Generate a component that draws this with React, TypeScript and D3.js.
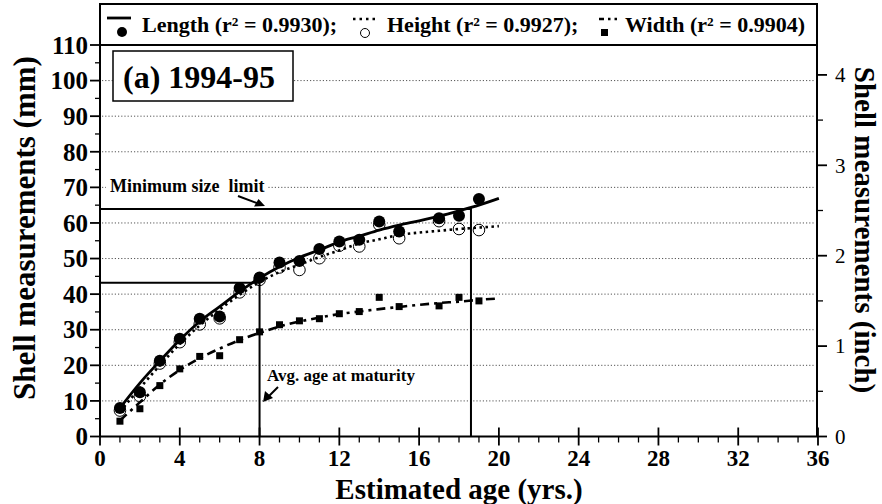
import React from 'react';
import * as d3 from 'd3';

// observed means per age class (mm)
const ages = [1, 2, 3, 4, 5, 6, 7, 8, 9, 10, 11, 12, 13, 14, 15, 17, 18, 19];
const lengthObs = [8.0, 12.4, 21.3, 27.5, 33.1, 33.7, 41.7, 44.7, 48.9, 49.3, 52.7, 54.8, 55.3, 60.4, 57.6, 61.3, 62.0, 66.7];
const heightObs = [7.3, 11.3, 20.5, 26.5, 31.5, 33.2, 40.5, 44.0, 47.5, 46.8, 50.1, 53.6, 53.4, 59.5, 55.7, 60.5, 58.3, 58.0];
const widthObs = [4.3, 7.8, 14.3, 19.0, 22.5, 22.7, 27.2, 29.4, 31.4, 32.5, 33.1, 34.5, 35.1, 39.1, 36.5, 36.7, 39.1, 38.1];

// fitted growth curves (mm)
const fitAges = [1, 2, 3, 4, 5, 6, 7, 8, 9, 10, 11, 12, 13, 14, 15, 16, 17, 18, 19, 20];
const lengthFit = [8.0, 15.0, 21.2, 27.1, 32.3, 36.5, 40.7, 44.5, 47.7, 50.3, 52.4, 54.7, 56.3, 58.0, 59.4, 60.6, 61.9, 63.4, 65.0, 66.9];
const heightFit = [7.0, 13.6, 20.0, 26.0, 31.2, 35.7, 39.8, 43.4, 46.2, 48.3, 50.4, 52.3, 54.2, 55.4, 56.6, 57.3, 57.8, 58.3, 58.7, 59.1];
const widthFit = [4.5, 9.6, 14.6, 18.7, 22.0, 24.7, 27.1, 29.1, 30.9, 32.3, 33.4, 34.4, 35.1, 35.8, 36.4, 37.0, 37.5, 37.9, 38.4, 38.8];

// reference lines
const minSizeLimit = 63.9; // mm
const ageAtLimit = 18.6;
const maturitySize = 43.2;
const maturityAge = 8;

const xTicks = [0, 4, 8, 12, 16, 20, 24, 28, 32, 36];
const yTicks = [0, 10, 20, 30, 40, 50, 60, 70, 80, 90, 100, 110];
const inchTicks = [0, 1, 2, 3, 4];

const FONT = '"Liberation Serif", "Times New Roman", serif';

export default function App() {
  const x = d3.scaleLinear().domain([0, 36]).range([100, 818]);
  const y = d3.scaleLinear().domain([0, 110]).range([436.5, 45]);
  const yIn = d3.scaleLinear().domain([0, 110 / 25.4]).range([436.5, 45]);

  const line = d3
    .line<number>()
    .x((_, i) => x(fitAges[i]))
    .y(d => y(d))
    .curve(d3.curveMonotoneX);

  const minorX = d3.range(0, 37, 1).filter(v => v % 4 !== 0);
  const minorY = d3.range(5, 110, 10);
  const minorIn = [0.5, 1.5, 2.5, 3.5];
  const grid = d3.range(10, 101, 10);

  const [x0, x1] = x.range();
  const yb = y(0);
  const yt = y(110);

  return (
    <div style={{ position: 'absolute', left: 0, top: 0 }}>
      <svg width={882} height={504} style={{ display: 'block', background: '#fff' }} fontFamily={FONT}>
        {/* grid */}
        {grid.map(g => (
          <line key={g} x1={x0 + 2} x2={x1 - 3} y1={y(g)} y2={y(g)} stroke="#555" strokeWidth={1} strokeDasharray="1.2,2" />
        ))}

        {/* label: minimum size limit */}
        <rect x={106} y={175} width={162} height={21} fill="#fff" />
        <text x={110} y={192} fontSize={18} fontWeight="bold" style={{ whiteSpace: 'pre' }}>Minimum size  limit</text>
        <line x1={238} y1={196} x2={258} y2={203.5} stroke="#000" strokeWidth={2} />
        <path d="M265,206 L254,206.5 L258.5,199 Z" fill="#000" />

        <rect x={263} y={367} width={154} height={20} fill="#fff" />
        <text x={267} y={381} fontSize={17} fontWeight="bold">Avg. age at maturity</text>
        <line x1={278} y1={387} x2={268} y2={397} stroke="#000" strokeWidth={2} />
        <path d="M263,402 L265,391 L273,398 Z" fill="#000" />

        {/* reference lines */}
        <polyline
          points={`${x0},${y(minSizeLimit)} ${x(ageAtLimit)},${y(minSizeLimit)} ${x(ageAtLimit)},${yb}`}
          fill="none"
          stroke="#000"
          strokeWidth={2}
        />
        <polyline
          points={`${x0},${y(maturitySize)} ${x(maturityAge)},${y(maturitySize)} ${x(maturityAge)},${yb}`}
          fill="none"
          stroke="#000"
          strokeWidth={2}
        />

        {/* fitted curves */}
        <path d={line(widthFit) || ''} fill="none" stroke="#000" strokeWidth={2.6} strokeDasharray="9,5,3,5" />
        <path d={line(heightFit) || ''} fill="none" stroke="#000" strokeWidth={2.6} strokeDasharray="2.5,3.5" />
        <path d={line(lengthFit) || ''} fill="none" stroke="#000" strokeWidth={2.8} />

        {/* observations */}
        {ages.map((a, i) => (
          <rect key={'w' + a} x={x(a) - 3.5} y={y(widthObs[i]) - 3.5} width={7} height={7} fill="#000" />
        ))}
        {ages.map((a, i) => (
          <circle key={'h' + a} cx={x(a)} cy={y(heightObs[i])} r={5.8} fill="none" stroke="#000" strokeWidth={1} />
        ))}
        {ages.map((a, i) => (
          <circle key={'l' + a} cx={x(a)} cy={y(lengthObs[i])} r={6} fill="#000" />
        ))}

        {/* panel label */}
        <rect x={113} y={51} width={180} height={50} fill="#fff" stroke="#000" strokeWidth={1.5} />
        <text x={123} y={88} fontSize={32} fontWeight="bold">(a) 1994-95</text>

        {/* axes */}
        <line x1={x0} x2={x0} y1={yt} y2={yb} stroke="#000" strokeWidth={2} />
        <line x1={x1 - 1} x2={x1 - 1} y1={yt} y2={yb} stroke="#000" strokeWidth={2} />
        <line x1={x0} x2={x1} y1={yb} y2={yb} stroke="#000" strokeWidth={2} />

        {xTicks.map(t => (
          <g key={'xt' + t}>
            <line x1={x(t)} x2={x(t)} y1={yb - 9} y2={yb + 9} stroke="#000" strokeWidth={1.8} />
            <text x={x(t)} y={466} fontSize={23} fontWeight="bold" textAnchor="middle">{t}</text>
          </g>
        ))}
        {minorX.map(t => (
          <line key={'xm' + t} x1={x(t)} x2={x(t)} y1={yb} y2={yb + 6} stroke="#000" strokeWidth={1.3} />
        ))}

        {yTicks.map(t => (
          <g key={'yt' + t}>
            <line x1={x0 - 10} x2={x0} y1={y(t)} y2={y(t)} stroke="#000" strokeWidth={1.8} />
            <text x={88} y={y(t)} dy="0.35em" fontSize={25} fontWeight="bold" textAnchor="end">{t}</text>
          </g>
        ))}
        {minorY.map(t => (
          <line key={'ym' + t} x1={x0 - 5} x2={x0} y1={y(t)} y2={y(t)} stroke="#000" strokeWidth={1.3} />
        ))}

        {inchTicks.map(t => (
          <g key={'it' + t}>
            <line x1={x1 - 1} x2={x1 + 9} y1={yIn(t)} y2={yIn(t)} stroke="#000" strokeWidth={1.8} />
            <text x={835} y={yIn(t)} dy="0.35em" fontSize={21}>{t}</text>
          </g>
        ))}
        {minorIn.map(t => (
          <line key={'im' + t} x1={x1 - 1} x2={x1 + 5} y1={yIn(t)} y2={yIn(t)} stroke="#000" strokeWidth={1.3} />
        ))}

        {/* axis titles */}
        <text x={459} y={499} fontSize={29} fontWeight="bold" textAnchor="middle">Estimated age (yrs.)</text>
        <text transform="translate(35,228) rotate(-90)" fontSize={31} fontWeight="bold" textAnchor="middle">
          Shell measurements (mm)
        </text>
        <text transform="translate(855,230) rotate(90)" fontSize={29} fontWeight="bold" textAnchor="middle">
          Shell measurements (inch)
        </text>

        {/* legend */}
        <rect x={100} y={4} width={717} height={41} fill="#fff" stroke="#000" strokeWidth={2} />
        <line x1={107} x2={131} y1={18} y2={18} stroke="#000" strokeWidth={2.8} />
        <circle cx={122} cy={32} r={5} fill="#000" />
        <text x={142} y={32} fontSize={22} fontWeight="bold">Length (r² = 0.9930);</text>

        <line x1={353} x2={378} y1={19} y2={19} stroke="#000" strokeWidth={2.6} strokeDasharray="2.5,4" />
        <circle cx={365} cy={33} r={4.5} fill="none" stroke="#000" strokeWidth={1} />
        <text x={387} y={32} fontSize={22} fontWeight="bold">Height (r² = 0.9927);</text>

        <line x1={599} x2={617} y1={19} y2={19} stroke="#000" strokeWidth={2.6} strokeDasharray="5,4,2.5,4" />
        <rect x={601} y={29} width={7} height={7} fill="#000" />
        <text x={625} y={32} fontSize={22} fontWeight="bold">Width (r² = 0.9904)</text>
      </svg>
    </div>
  );
}
